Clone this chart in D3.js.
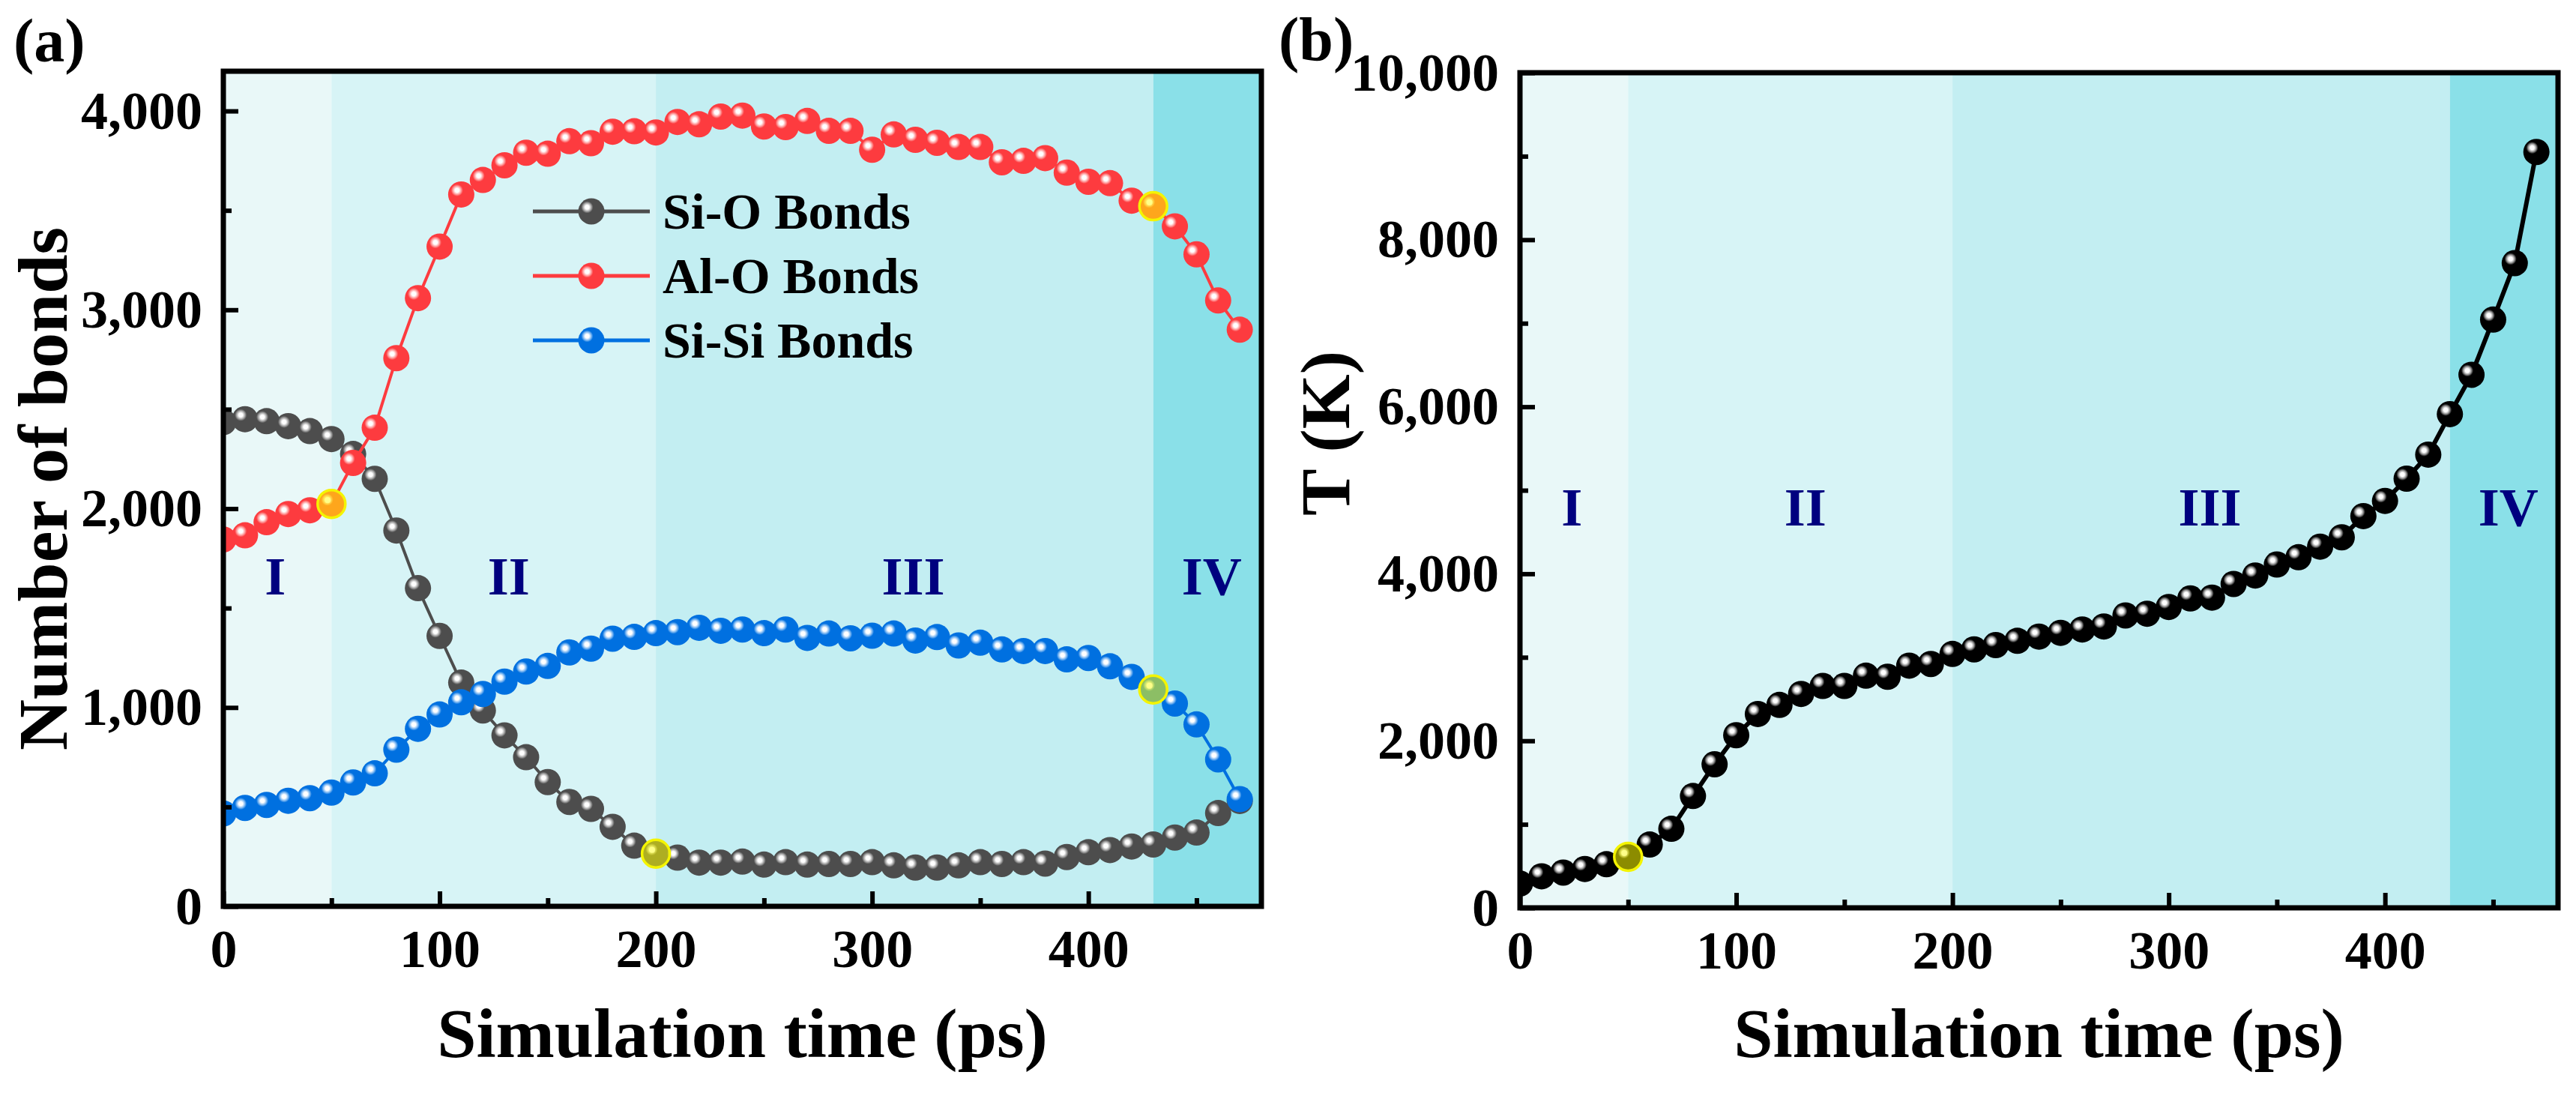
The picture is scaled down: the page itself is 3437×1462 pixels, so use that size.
<!DOCTYPE html>
<html>
<head>
<meta charset="utf-8">
<script src="https://cdn.jsdelivr.net/npm/d3@7"></script>
<style>
body { margin: 0; background: #fff; }
text { font-family: "Liberation Serif", "Times New Roman", serif; font-weight: bold; }
</style>
</head>
<body>
<script>
// data, one point every 10 ps
const timePs = [0, 10, 20, 30, 40, 50, 60, 70, 80, 90, 100, 110, 120, 130, 140, 150,
  160, 170, 180, 190, 200, 210, 220, 230, 240, 250, 260, 270, 280, 290, 300, 310,
  320, 330, 340, 350, 360, 370, 380, 390, 400, 410, 420, 430, 440, 450, 460, 470];

const siOBonds = [2435, 2450, 2440, 2415, 2390, 2350, 2275, 2150, 1890, 1600, 1360, 1125,
  985, 860, 750, 625, 525, 490, 400, 305, 265, 245, 220, 220, 225, 210, 222, 210,
  213, 213, 222, 206, 195, 195, 206, 222, 213, 222, 215, 248, 272, 283, 301, 311,
  346, 371, 469, 530];

const alOBonds = [1845, 1866, 1932, 1973, 1992, 2024, 2230, 2407, 2757, 3059, 3318, 3580,
  3653, 3727, 3790, 3785, 3848, 3838, 3896, 3898, 3892, 3945, 3933, 3972, 3977, 3922,
  3919, 3950, 3900, 3900, 3805, 3882, 3855, 3840, 3819, 3819, 3742, 3749, 3763, 3690,
  3644, 3637, 3549, 3521, 3420, 3279, 3047, 2900];

const siSiBonds = [467, 495, 510, 531, 544, 572, 623, 669, 788, 893, 965, 1026, 1068, 1130,
  1181, 1209, 1277, 1296, 1346, 1355, 1374, 1379, 1401, 1386, 1392, 1374, 1392, 1350,
  1372, 1348, 1361, 1372, 1337, 1354, 1312, 1326, 1292, 1284, 1284, 1242, 1249, 1207,
  1154, 1091, 1020, 915, 739, 539];

const temperatureK = [291, 378, 422, 465, 522, 611, 758, 946, 1339, 1719, 2067, 2321, 2430,
  2561, 2657, 2657, 2780, 2767, 2900, 2920, 3040, 3095, 3146, 3197, 3248, 3293, 3333,
  3369, 3501, 3522, 3603, 3705, 3715, 3878, 3980, 4111, 4198, 4325, 4437, 4691, 4873,
  5139, 5427, 5912, 6383, 7044, 7720, 9051];

// the four stages of the run
const stageBreaks = [0, 50, 200, 430, 480];
const stageNames = ["I", "II", "III", "IV"];
const stageLabelX = [24, 132, 319, 457];
const stageColors = ["#e9f8f8", "#d7f4f6", "#c3eef2", "#8ae0e8"];

// legend names
const bondNames = ["Si-O Bonds", "Al-O Bonds", "Si-Si Bonds"];

// tick values
const xTicks = [0, 100, 200, 300, 400];
const xMinorTicks = [50, 150, 250, 350, 450];
const bondTicks = [0, 1000, 2000, 3000, 4000];
const bondMinorTicks = [500, 1500, 2500, 3500];
const tempTicks = [0, 2000, 4000, 6000, 8000, 10000];
const tempMinorTicks = [1000, 3000, 5000, 7000, 9000];

// points circled in yellow
const bondMarkTime = [50, 200, 430, 430];
const bondMarkSeries = ["Al-O Bonds", "Si-O Bonds", "Al-O Bonds", "Si-Si Bonds"];
const tempMarkTime = [50];

const width = 3437;
const height = 1462;

let svg = d3.select("body").append("svg")
  .attr("width", width)
  .attr("height", height);

svg.append("rect")
  .attr("width", width)
  .attr("height", height)
  .attr("fill", "white");

let defs = svg.append("defs");

// shaded ball look of the markers
function ballGradient(id, light, base) {
  let g = defs.append("radialGradient")
    .attr("id", id)
    .attr("cx", "34%").attr("cy", "34%")
    .attr("fx", "34%").attr("fy", "34%")
    .attr("r", "50%");
  g.append("stop").attr("offset", "0%").attr("stop-color", "#ffffff");
  g.append("stop").attr("offset", "15%").attr("stop-color", "#ffffff");
  g.append("stop").attr("offset", "30%").attr("stop-color", light);
  g.append("stop").attr("offset", "46%").attr("stop-color", base);
  g.append("stop").attr("offset", "100%").attr("stop-color", base);
}
ballGradient("ballGray", "#b0b0b0", "#4d4d4d");
ballGradient("ballRed", "#ffa8a8", "#fd3b3f");
ballGradient("ballBlue", "#8cc0f4", "#0070e0");
ballGradient("ballBlack", "#9a9a9a", "#000000");

const markerR = 17.5;

function drawPanel(p) {
  let g = svg.append("g");

  let x = d3.scaleLinear().domain([0, 480]).range([p.left, p.right]);
  let y = d3.scaleLinear().domain([0, p.yMax]).range([p.bottom, p.top]);

  defs.append("clipPath").attr("id", "clip" + p.id)
    .append("rect")
    .attr("x", p.left).attr("y", p.top)
    .attr("width", p.right - p.left).attr("height", p.bottom - p.top);

  // stage backgrounds
  g.selectAll(".stage")
    .data(stageColors)
    .join("rect")
    .attr("class", "stage")
    .attr("x", (d, i) => x(stageBreaks[i]))
    .attr("width", (d, i) => x(stageBreaks[i + 1]) - x(stageBreaks[i]))
    .attr("y", p.top)
    .attr("height", p.bottom - p.top)
    .attr("fill", d => d);

  // stage labels
  g.selectAll(".stageLabel")
    .data(stageNames)
    .join("text")
    .attr("class", "stageLabel")
    .attr("x", (d, i) => x(stageLabelX[i]))
    .attr("y", y(p.stageLabelY))
    .attr("text-anchor", "middle")
    .attr("font-size", 72)
    .attr("fill", "#00007f")
    .text(d => d);

  let plot = g.append("g").attr("clip-path", "url(#clip" + p.id + ")");

  // lines then balls, series by series
  p.series.forEach(s => {
    let line = d3.line()
      .x((d, i) => x(timePs[i]))
      .y(d => y(d));
    plot.append("path")
      .datum(s.values)
      .attr("d", line)
      .attr("fill", "none")
      .attr("stroke", s.color)
      .attr("stroke-width", s.lineWidth);
    plot.selectAll(null)
      .data(s.values)
      .join("circle")
      .attr("cx", (d, i) => x(timePs[i]))
      .attr("cy", d => y(d))
      .attr("r", markerR)
      .attr("fill", "url(#" + s.ball + ")");
  });

  // yellow see-through rings on the stage change points
  p.marks.forEach(m => {
    let s = p.series.find(d => d.name === m.series);
    let v = s.values[timePs.indexOf(m.t)];
    plot.append("circle")
      .attr("cx", x(m.t))
      .attr("cy", y(v))
      .attr("r", markerR + 1)
      .attr("fill", "#ffff00")
      .attr("fill-opacity", 0.55)
      .attr("stroke", "#f4f400")
      .attr("stroke-width", 3.5);
    plot.append("circle")
      .attr("cx", x(m.t) - 5)
      .attr("cy", y(v) - 5)
      .attr("r", 4)
      .attr("fill", "#ffff90")
      .attr("opacity", 0.8);
  });

  // frame
  g.append("rect")
    .attr("x", p.left).attr("y", p.top)
    .attr("width", p.right - p.left).attr("height", p.bottom - p.top)
    .attr("fill", "none")
    .attr("stroke", "black")
    .attr("stroke-width", 7);

  // x axis, ticks pointing in
  let xAxis = g.append("g")
    .attr("transform", "translate(0," + p.bottom + ")")
    .call(d3.axisBottom(x).tickValues(xTicks).tickSizeInner(-20).tickSizeOuter(0)
      .tickPadding(30).tickFormat(d3.format("d")));
  g.append("g")
    .attr("transform", "translate(0," + p.bottom + ")")
    .call(d3.axisBottom(x).tickValues(xMinorTicks).tickSizeInner(-11).tickSizeOuter(0)
      .tickFormat(""));

  let yAxis = g.append("g")
    .attr("transform", "translate(" + p.left + ",0)")
    .call(d3.axisLeft(y).tickValues(p.yTicks).tickSizeInner(-20).tickSizeOuter(0)
      .tickPadding(28).tickFormat(d3.format(",")));
  g.append("g")
    .attr("transform", "translate(" + p.left + ",0)")
    .call(d3.axisLeft(y).tickValues(p.yMinorTicks).tickSizeInner(-11).tickSizeOuter(0)
      .tickFormat(""));

  g.selectAll(".domain").remove();
  g.selectAll(".tick line").attr("stroke", "black").attr("stroke-width", 6);
  g.selectAll(".tick text")
    .attr("font-size", 72)
    .attr("font-family", "Liberation Serif")
    .attr("font-weight", "bold")
    .attr("fill", "black");

  // axis titles
  g.append("text")
    .attr("x", (p.left + p.right) / 2)
    .attr("y", 1410)
    .attr("text-anchor", "middle")
    .attr("font-size", 94)
    .text("Simulation time (ps)");

  g.append("text")
    .attr("transform", "translate(" + p.yTitleX + "," + p.yTitleY + ") rotate(-90)")
    .attr("text-anchor", "middle")
    .attr("font-size", 94)
    .text(p.yTitle);

  g.append("text")
    .attr("x", p.tagX)
    .attr("y", p.tagY)
    .attr("font-size", 82)
    .text(p.tag);

  return { x: x, y: y };
}

// panel (a): bonds
let seriesA = [
  { name: bondNames[0], values: siOBonds, color: "#4d4d4d", ball: "ballGray", lineWidth: 4 },
  { name: bondNames[1], values: alOBonds, color: "#fd3b3f", ball: "ballRed", lineWidth: 4 },
  { name: bondNames[2], values: siSiBonds, color: "#0070e0", ball: "ballBlue", lineWidth: 4 }
];

drawPanel({
  id: "a", left: 298, right: 1683, top: 95, bottom: 1209,
  yMax: 4200, yTicks: bondTicks, yMinorTicks: bondMinorTicks,
  stageLabelY: 1570,
  series: seriesA,
  marks: bondMarkTime.map((t, i) => ({ t: t, series: bondMarkSeries[i] })),
  yTitle: "Number of bonds", yTitleX: 89, yTitleY: 652,
  tag: "(a)", tagX: 18, tagY: 82
});

// legend of panel (a)
let legend = svg.append("g").attr("transform", "translate(711,282)");
seriesA.forEach((s, i) => {
  let row = legend.append("g").attr("transform", "translate(0," + i * 86 + ")");
  row.append("line")
    .attr("x1", 0).attr("x2", 156)
    .attr("stroke", s.color)
    .attr("stroke-width", 5);
  row.append("circle")
    .attr("cx", 78).attr("cy", 0)
    .attr("r", markerR)
    .attr("fill", "url(#" + s.ball + ")");
  row.append("text")
    .attr("x", 173).attr("y", 23)
    .attr("font-size", 68)
    .text(s.name);
});

// panel (b): temperature
drawPanel({
  id: "b", left: 2028, right: 3413, top: 97, bottom: 1211,
  yMax: 10000, yTicks: tempTicks, yMinorTicks: tempMinorTicks,
  stageLabelY: 4580,
  series: [{ name: "T", values: temperatureK, color: "#000000", ball: "ballBlack", lineWidth: 6 }],
  marks: tempMarkTime.map(t => ({ t: t, series: "T" })),
  yTitle: "T (K)", yTitleX: 1800, yTitleY: 578,
  tag: "(b)", tagX: 1706, tagY: 80
});
</script>
</body>
</html>
